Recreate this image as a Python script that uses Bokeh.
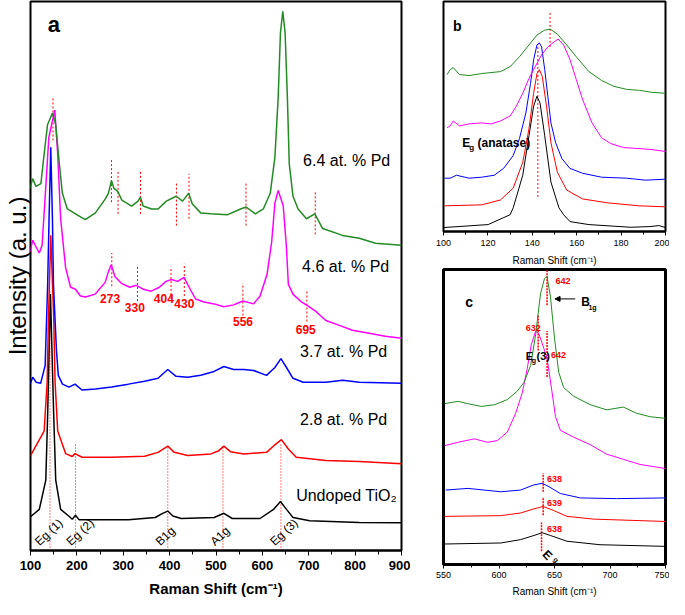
from bokeh.core.properties import value
from bokeh.embed import file_html
from bokeh.layouts import column, row
from bokeh.models import Arrow, FixedTicker, NormalHead, Range1d, SingleIntervalTicker
from bokeh.plotting import figure
from bokeh.resources import INLINE

GREEN, MAGENTA, BLUE, RED, BLACK = "#228b22", "#ff00ff", "#0000ff", "#ff0000", "#000000"
FONT = "Liberation Sans"

# ---- panel a: full spectra, Raman shift (cm-1) vs intensity (a.u.)
A_PD64_X = [99, 104.7, 111.7, 122.4, 129.4, 136.7, 147.4, 154.4, 161.4, 168.7, 179.4, 197, 218, 240,
            261, 268, 274.5, 280, 288, 297, 318, 332, 337, 343, 361, 375, 393, 414, 428, 441, 449,
            467, 489, 524, 553, 565, 585, 602, 617, 627, 634, 639, 644, 649, 654, 658, 666, 677,
            695, 713, 730, 773, 809, 844, 900]
A_PD64_Y = [370, 380, 372, 375, 405, 435, 447, 435, 399, 365, 349, 344, 338, 345,
            359, 365, 378, 370, 367, 358, 352, 357, 361, 352, 349, 349, 357, 362, 357, 365, 354,
            345, 344, 343, 349, 351, 344, 349, 365, 402, 462, 529, 551, 529, 462, 395, 362, 349,
            339, 344, 329, 322, 319, 314, 312]

A_PD46_X = [99, 104.7, 118.8, 125, 133, 139.5, 152.3, 158.7, 165, 175.7, 186.4, 197, 207.7, 218.4,
            239.7, 261, 268, 274, 282, 296, 314, 328, 343, 360, 378, 392, 404, 417, 431, 442,
            456, 474, 496, 517, 538, 558, 581, 595, 610, 620, 627, 634, 645, 652, 656, 666,
            684, 698, 716, 737, 766, 794, 830, 865, 900]
A_PD46_Y = [305, 317, 304, 312, 372, 422, 450, 405, 339, 289, 269, 267, 260, 259,
            262, 274, 285, 292, 280, 273, 269, 271, 267, 265, 269, 275, 277, 275, 279, 269,
            257, 254, 252, 249, 251, 255, 252, 260, 282, 315, 355, 368, 352, 309, 272, 262,
            254, 250, 244, 235, 230, 225, 222, 219, 217]

A_PD37_X = [99, 105, 112, 122, 131.6, 137, 140, 143.7, 147.3, 149.5, 155.9, 160, 169, 183, 196,
            211, 240, 275, 311, 346, 375, 396, 414, 439, 467, 496, 517, 538, 560, 581, 609, 627,
            640, 652, 666, 688, 737, 773, 809, 900]
A_PD37_Y = [170, 177, 172, 171, 189, 272, 339, 412, 339, 272, 205, 179, 170, 167, 170,
            164, 165, 167, 170, 173, 176, 185, 178, 177, 179, 183, 188, 185, 185, 184, 179, 187,
            196, 187, 176, 172, 172, 174, 172, 171]

A_PD28_X = [100, 129.4, 135.9, 138.8, 143.7, 150, 153, 158.7, 175.7, 190, 196, 211, 275, 346, 375,
            396, 410, 439, 489, 506, 517, 531, 560, 609, 627, 641, 656, 673, 737, 809, 900]
A_PD28_Y = [97, 122, 172, 239, 322, 239, 172, 122, 99, 96, 99, 95.3, 95.3, 96.3, 100.3,
            106.7, 100.3, 97, 98.7, 102, 106.7, 101, 98.7, 100.3, 108, 113.3, 103.7, 95.3, 92, 91, 88.7]

A_UNDOPED_X = [100, 119, 133, 137, 143, 150, 154.4, 165, 183, 190, 197, 205, 311, 369, 385, 396,
               407, 425, 496, 517, 535, 595, 624, 639, 652, 666, 702, 809, 900]
A_UNDOPED_Y = [34.5, 42, 72, 139, 262, 139, 72, 42, 35, 32, 36, 31.3, 31.3, 33.7, 38, 40.3,
               35.3, 32.7, 33.7, 38, 32.7, 32.7, 42, 50, 42, 33.7, 30.3, 28.7, 28.3]

# assigned anatase modes and their labels
A_MODE_X = [142, 197, 396, 515, 640]
A_MODE_TOP = [265, 110, 105, 107, 109]
A_MODE_NAMES = ["Eg (1)", "Eg (2)", "B1g", "A1g", "Eg (3)"]
A_MODE_LABEL_X = [124, 192, 384, 502, 631]

# peaks marked on the doped spectra
A_PD64_MARK_X = [148.5, 274.5, 288.8, 337.2, 414.7, 441.8, 564.7, 714]
A_PD64_MARK_LO = [419, 356, 344, 344, 332, 339, 332, 323]
A_PD64_MARK_HI = [463, 401, 389, 389, 377, 385, 377, 368]
A_PD46_MARK_X = [275.3, 330.8, 403, 431.7, 558, 696]
A_PD46_MARK_LO = [270, 255, 257, 260, 240, 234]
A_PD46_MARK_HI = [304, 290, 290, 293, 273, 265]
A_PD46_LABELS = ["273", "330", "404", "430", "556", "695"]
A_PD46_LABEL_X = [271.7, 325, 387.6, 431.7, 558.2, 693.5]
A_PD46_LABEL_Y = [258, 248, 257, 252, 234, 226]

SAMPLES = ["6.4 at. % Pd", "4.6 at. %  Pd", "3.7 at. % Pd", "2.8 at. % Pd", "Undoped TiO\u2082"]
SAMPLE_LABEL_X = [687.7, 685.6, 681.3, 681.3, 672.8]
SAMPLE_LABEL_Y = [399, 290, 203, 134, 56]

# ---- panel b: Eg (anatase) region
B_PD64_X = [101.6, 103, 104.4, 107.2, 111.5, 117.2, 121.4, 125.7, 130, 134.2, 138.5, 142.1, 145.6,
            148.1, 151.3, 155.5, 159.8, 165.5, 171.2, 176.8, 182.5, 188.2, 193.9, 200]
B_PD64_Y = [159, 164, 166, 159, 158, 160, 161, 162, 167, 177, 189, 199, 204,
            205, 200, 189, 177, 162, 153, 147, 144, 143, 141, 140]
B_PD46_X = [101.6, 103, 104.4, 107.2, 111.5, 117.2, 121.4, 125.7, 130, 132.8, 135.7, 138.5, 141.3,
            144.2, 147, 149.8, 151.6, 154.1, 157, 159.8, 162.6, 166.9, 171.2, 175.4, 181.1, 188.2,
            193.9, 200]
B_PD46_Y = [105, 107, 112, 107, 109, 110, 109, 112, 117, 127, 140, 155, 167,
            179, 187, 192, 195, 189, 174, 154, 134, 110, 95, 89, 85, 84, 83, 81]
B_PD37_X = [100.5, 103, 105.8, 111.5, 117.2, 122.9, 127.1, 131.4, 134.2, 137.1, 139.2, 140.6, 142.1,
            143.2, 144.2, 145.6, 147, 148.4, 150.5, 153.3, 156.9, 162.6, 171.2, 182.5, 191, 200]
B_PD37_Y = [54, 54, 57, 54, 55, 57, 64, 77, 94, 120, 150, 174, 189,
            191, 187, 164, 137, 110, 90, 74, 64, 59, 55, 54, 52, 53]
B_PD28_X = [100.5, 117.2, 125.7, 131.4, 135.7, 138.5, 140.6, 142.1, 143.2, 144.5, 146.4, 148.4,
            151.3, 155.5, 162.6, 174, 188.2, 200]
B_PD28_Y = [26, 27, 32, 44, 70, 104, 140, 160, 164, 157, 127, 90,
            60, 42, 33, 29, 26, 25]
B_UNDOPED_X = [100, 120.1, 130, 131.4, 135.7, 138.5, 140.6, 142.1, 143.5, 145.6, 148.4, 152, 154.1,
               157, 165.5, 184.3, 193, 197, 200]
B_UNDOPED_Y = [4, 7, 17, 24, 57, 97, 127, 137, 130, 97, 50, 24, 17,
               10, 7, 4.3, 5, 6, 4]
B_MARK_X = [142.5, 148]
B_MARK_LO = [35, 187]
B_MARK_HI = [190, 222]

# ---- panel c: Eg (3) / B1g region
C_PD64_X = [551, 563, 572, 584, 596, 607.5, 616.5, 622.5, 628.5, 633, 637.4, 641, 643.3, 646.4, 650,
            653.8, 658.3, 667.2, 682.2, 697, 712, 723.9, 735.9, 750]
C_PD64_Y = [157, 159.3, 157, 154.3, 156, 161, 169.3, 177.7, 194.3, 224.3, 264.3, 279.3, 281, 261, 221,
            187.7, 172.7, 164.3, 156, 151, 153.7, 147.7, 144.3, 142.7]
C_PD46_X = [551, 563, 577.7, 589.6, 598.6, 607.5, 615, 621, 625.4, 629, 633, 636, 640.4, 643.3, 647,
            650.9, 655.3, 667.2, 682.2, 697, 712, 726.9, 750]
C_PD46_Y = [116, 119.3, 122.7, 119.3, 121, 129.3, 147.7, 167.7, 191, 214.3, 227.7, 225, 211, 201, 174.3,
            144.3, 131, 124.3, 117, 107.7, 102.7, 97.7, 93.7]
C_PD37_X = [552, 572, 601.6, 619.5, 631.4, 638.9, 644.9, 655.3, 673.2, 706, 750]
C_PD37_Y = [72.7, 74.3, 71, 72.7, 77.7, 79.3, 76, 69.3, 65, 64.3, 65]
C_PD28_X = [551, 601.6, 619.5, 631.4, 639.8, 649.3, 661.2, 685.1, 750]
C_PD28_Y = [47, 47.7, 50.3, 54.3, 56.7, 52.7, 47, 44.3, 42]
C_UNDOPED_X = [551, 601.6, 619.5, 631.4, 638.9, 646.4, 661.2, 691, 750]
C_UNDOPED_Y = [20, 21, 24.3, 28.3, 31, 28.3, 22.7, 19.3, 17.7]
C_MARK_X = [643.3, 635.3, 643.3, 639.8, 639.8, 638.3]
C_MARK_LO = [253, 209, 183, 71, 48, 13]
C_MARK_HI = [288, 243, 228, 89, 66, 41]
C_PEAKS = ["642", "632", "642", "638", "639", "638"]
C_PEAK_X = [650.8, 624, 646.9, 643.3, 643.3, 643.3]
C_PEAK_Y = [277, 231, 204.3, 83.3, 60, 35]


def panel(width, height, x_range, y_range, interval, left, right, y_axis=False):
    p = figure(width=width, height=height, x_range=Range1d(*x_range), y_range=Range1d(*y_range),
               toolbar_location=None, output_backend="svg",
               y_axis_location="left" if y_axis else None,
               min_border_left=left, min_border_right=right, min_border_top=1, min_border_bottom=0)
    p.xgrid.grid_line_color = None
    p.ygrid.grid_line_color = None
    p.outline_line_color = BLACK
    p.outline_line_width = 2
    p.outline_line_alpha = 1
    p.xaxis.ticker = SingleIntervalTicker(interval=interval, num_minor_ticks=2)
    p.xaxis.axis_line_width = 2
    p.xaxis.major_tick_in = 0
    p.xaxis.minor_tick_in = 0
    p.xaxis.major_label_text_font = FONT
    p.xaxis.axis_label_text_font = FONT
    p.xaxis.axis_label_text_font_style = "normal"
    p.xaxis.major_label_text_color = BLACK
    p.xaxis.axis_label_text_color = BLACK
    return p


def text(p, x, y, s, size, color=BLACK, bold=False, align="left", baseline="middle", angle=0.0):
    p.text(x=x, y=y, text=s, text_font=value(FONT), text_font_size=size,
           text_font_style="bold" if bold else "normal", text_color=color,
           text_align=align, text_baseline=baseline, angle=angle)


# ---------------- panel a
pa = panel(410, 599, (100, 900), (0, 561), 100, 26, 9, y_axis=True)
pa.xaxis.axis_label = "Raman Shift (cm\u207b\u00b9)"
pa.xaxis.axis_label_text_font_size = "15px"
pa.xaxis.axis_label_text_font_style = "bold"
pa.xaxis.axis_label_standoff = 7
pa.xaxis.major_label_text_font_size = "13px"
pa.xaxis.major_label_text_font_style = "bold"
pa.xaxis.major_label_standoff = 5
pa.xaxis.major_tick_out = 5
pa.xaxis.minor_tick_out = 4
pa.yaxis.ticker = FixedTicker(ticks=[])
pa.yaxis.axis_label = "Intensity (a. u.)"
pa.yaxis.axis_label_text_font = FONT
pa.yaxis.axis_label_text_font_size = "24px"
pa.yaxis.axis_label_text_font_style = "normal"
pa.yaxis.axis_label_text_color = BLACK
pa.yaxis.axis_label_standoff = 0
pa.yaxis.major_label_standoff = 0
pa.yaxis.major_tick_out = 0
pa.yaxis.minor_tick_out = 0
pa.yaxis.axis_line_color = None

pa.segment(x0=A_MODE_X, y0=[0] * len(A_MODE_X), x1=A_MODE_X, y1=A_MODE_TOP,
           line_color=RED, line_dash="1 2", line_width=1)
pa.segment(x0=A_PD64_MARK_X, y0=A_PD64_MARK_LO, x1=A_PD64_MARK_X, y1=A_PD64_MARK_HI,
           line_color=RED, line_dash="2 2", line_width=1)
pa.segment(x0=A_PD46_MARK_X, y0=A_PD46_MARK_LO, x1=A_PD46_MARK_X, y1=A_PD46_MARK_HI,
           line_color=RED, line_dash="2 2", line_width=1)

for xs, ys, c in [(A_UNDOPED_X, A_UNDOPED_Y, BLACK), (A_PD28_X, A_PD28_Y, RED),
                  (A_PD37_X, A_PD37_Y, BLUE), (A_PD46_X, A_PD46_Y, MAGENTA),
                  (A_PD64_X, A_PD64_Y, GREEN)]:
    pa.line(xs, ys, line_color=c, line_width=1.5)

text(pa, SAMPLE_LABEL_X, SAMPLE_LABEL_Y, SAMPLES, "16px")
text(pa, A_PD46_LABEL_X, A_PD46_LABEL_Y, A_PD46_LABELS, "12px", color=RED, bold=True, align="center")
text(pa, A_MODE_LABEL_X, [2] * len(A_MODE_X), A_MODE_NAMES, "12px", baseline="bottom", angle=0.75)
text(pa, [137], [537], ["a"], "22px", bold=True)

# ---------------- panel b
pb = panel(259, 268, (100, 200), (0, 233), 20, 28, 2)
pb.xaxis.axis_label = "Raman Shift (cm\u207b\u00b9)"
pb.xaxis.axis_label_text_font_size = "10px"
pb.xaxis.axis_label_standoff = 6
pb.xaxis.major_label_text_font_size = "9px"
pb.xaxis.major_label_standoff = 4
pb.xaxis.major_tick_out = 4
pb.xaxis.minor_tick_out = 3

pb.segment(x0=B_MARK_X, y0=B_MARK_LO, x1=B_MARK_X, y1=B_MARK_HI,
           line_color=RED, line_dash="2 2", line_width=1)
for xs, ys, c in [(B_UNDOPED_X, B_UNDOPED_Y, BLACK), (B_PD28_X, B_PD28_Y, RED),
                  (B_PD37_X, B_PD37_Y, BLUE), (B_PD46_X, B_PD46_Y, MAGENTA),
                  (B_PD64_X, B_PD64_Y, GREEN)]:
    pb.line(xs, ys, line_color=c, line_width=1)
text(pb, [104.3], [208], ["b"], "14px", bold=True)
text(pb, [108.5], [90], ["E"], "12px", bold=True)
text(pb, [111.6], [85], ["g"], "8px", bold=True)
text(pb, [115.3], [90], ["(anatase)"], "12px", bold=True)

# ---------------- panel c
pc = panel(259, 331, (550, 750), (0, 288), 50, 33, 4)
pc.outline_line_width = 3
pc.xaxis.axis_label = "Raman Shift (cm\u207b\u00b9)"
pc.xaxis.axis_label_text_font_size = "10px"
pc.xaxis.axis_label_standoff = 5
pc.xaxis.major_label_text_font_size = "9px"
pc.xaxis.major_label_standoff = 3
pc.xaxis.major_tick_out = 4
pc.xaxis.minor_tick_out = 3

pc.segment(x0=C_MARK_X, y0=C_MARK_LO, x1=C_MARK_X, y1=C_MARK_HI,
           line_color=RED, line_dash="2 1", line_width=1.5)
for xs, ys, c in [(C_UNDOPED_X, C_UNDOPED_Y, BLACK), (C_PD28_X, C_PD28_Y, RED),
                  (C_PD37_X, C_PD37_Y, BLUE), (C_PD46_X, C_PD46_Y, MAGENTA),
                  (C_PD64_X, C_PD64_Y, GREEN)]:
    pc.line(xs, ys, line_color=c, line_width=1)
text(pc, C_PEAK_X, C_PEAK_Y, C_PEAKS, "9px", color=RED, bold=True)
text(pc, [569.7], [256], ["c"], "14px", bold=True)
text(pc, [674.1], [256], ["B"], "12px", bold=True)
text(pc, [680.6], [251], ["1g"], "7px", bold=True)
text(pc, [624], [203.3], ["E"], "11px", bold=True)
text(pc, [629.6], [199], ["g"], "7px", bold=True)
text(pc, [633.8], [203.3], ["(3)"], "11px", bold=True)
text(pc, [641], [12], ["E"], "12px", bold=True, angle=-0.8)
text(pc, [650], [6], ["g"], "7px", bold=True, angle=-0.8)
pc.add_layout(Arrow(end=NormalHead(size=5, fill_color=BLACK, line_color=BLACK),
                    x_start=668.7, y_start=259.3, x_end=650.5, y_end=259.3,
                    line_color=BLACK, line_width=1))

layout = row(pa, column(pb, pc))
open("out.html", "w").write(file_html(layout, INLINE, title="Raman spectra"))
